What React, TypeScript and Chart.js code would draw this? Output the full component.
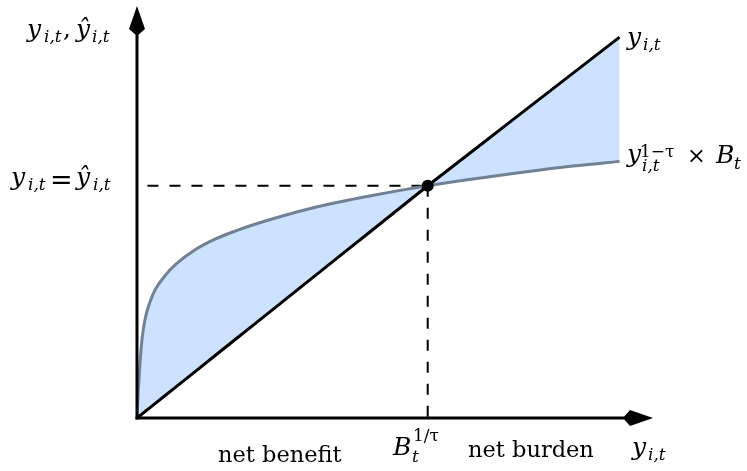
import React, { useEffect, useRef } from 'react';
import { Chart, registerables } from 'chart.js';

Chart.register(...registerables);

// ---- data ----
const xValues = [0, 0.001, 0.004, 0.0086, 0.018, 0.029, 0.046, 0.064, 0.098, 0.132, 0.2, 0.27, 0.34, 0.4, 0.5, 0.6, 0.7, 0.8, 0.9, 1.0, 1.1, 1.2, 1.3, 1.4, 1.5, 1.66];
const curveValues = [0, 0.03, 0.11, 0.205, 0.347, 0.433, 0.504, 0.556, 0.615, 0.66, 0.724, 0.771, 0.806, 0.832, 0.87, 0.903, 0.931, 0.956, 0.979, 1.0, 1.019, 1.037, 1.054, 1.07, 1.085, 1.105];
const lineValues = [0, 0.001, 0.004, 0.0086, 0.018, 0.029, 0.046, 0.064, 0.098, 0.132, 0.2, 0.27, 0.34, 0.4, 0.5, 0.6, 0.7, 0.8, 0.9, 1.0, 1.097, 1.194, 1.291, 1.388, 1.485, 1.64];
const intersectionPoint = [{ x: 1, y: 1 }];
const hDashX = [0.036, 1];
const hDashY = [1, 1];
const vDashX = [1, 1];
const vDashY = [1, 0];
const xRange = [0, 1.775];
const yRange = [0, 1.774];

const NET_BENEFIT = 'net benefit';
const NET_BURDEN = 'net burden';

// ---- styles ----
const FILL = 'rgb(204,226,255)';
const CURVE = '#718193';
const MI = 'italic 25px "DejaVu Serif"';
const SI = 'italic 17px "DejaVu Serif"';
const SU = '17px "DejaVu Serif"';
const UP = '22.5px "DejaVu Serif"';
const EQ = '25px "DejaVu Serif"';

type Piece = { t: string; x: number; y: number; f: string };

const labels: Piece[][] = [
  // y_{i,t}, ŷ_{i,t}
  [
    { t: 'y', x: 27, y: 37, f: MI },
    { t: 'i,t', x: 44, y: 42, f: SI },
    { t: ',', x: 63, y: 37, f: EQ },
    { t: 'ŷ', x: 76, y: 37, f: MI },
    { t: 'i,t', x: 92, y: 42, f: SI },
  ],
  // y_{i,t} = ŷ_{i,t}
  [
    { t: 'y', x: 11, y: 185, f: MI },
    { t: 'i,t', x: 28, y: 190, f: SI },
    { t: '=', x: 50, y: 189, f: '27px "DejaVu Serif"' },
    { t: 'ŷ', x: 76, y: 185, f: MI },
    { t: 'i,t', x: 93, y: 190, f: SI },
  ],
  // y_{i,t} at line end
  [
    { t: 'y', x: 627, y: 45, f: MI },
    { t: 'i,t', x: 643, y: 50, f: SI },
  ],
  // y_{i,t}^{1-τ} × B_t
  [
    { t: 'y', x: 627, y: 162, f: MI },
    { t: 'i,t', x: 642, y: 171, f: SI },
    { t: '1\u2212\u03c4', x: 640, y: 157, f: SU },
    { t: '\u00d7', x: 687, y: 163, f: UP },
    { t: 'B', x: 716, y: 163, f: MI },
    { t: 't', x: 734, y: 169, f: SI },
  ],
  // B_t^{1/τ}
  [
    { t: 'B', x: 393, y: 455, f: MI },
    { t: 't', x: 412, y: 462, f: SI },
    { t: '1/\u03c4', x: 413, y: 441, f: SU },
  ],
  [{ t: NET_BENEFIT, x: 218, y: 462, f: UP }],
  [{ t: NET_BURDEN, x: 468, y: 457, f: UP }],
  // x-axis label
  [
    { t: 'y', x: 632, y: 455, f: MI },
    { t: 'i,t', x: 648, y: 460, f: SI },
  ],
];

const decorPlugin = {
  id: 'decor',
  afterDatasetsDraw(chart: any) {
    const { ctx, chartArea, scales } = chart;
    const ox = scales.x.getPixelForValue(0);
    const oy = scales.y.getPixelForValue(0);
    const right = chartArea.right;
    const top = chartArea.top;
    ctx.save();
    ctx.strokeStyle = '#000';
    ctx.fillStyle = '#000';
    ctx.lineWidth = 3;
    ctx.lineCap = 'butt';
    // x axis
    ctx.beginPath();
    ctx.moveTo(ox - 1.5, oy);
    ctx.lineTo(right - 26, oy);
    ctx.stroke();
    // y axis
    ctx.beginPath();
    ctx.moveTo(ox, oy + 1.5);
    ctx.lineTo(ox, top + 26);
    ctx.stroke();
    // x arrow head
    ctx.beginPath();
    ctx.moveTo(right, oy);
    ctx.lineTo(right - 23, oy - 8);
    ctx.lineTo(right - 30, oy);
    ctx.lineTo(right - 23, oy + 8);
    ctx.closePath();
    ctx.fill();
    // y arrow head
    ctx.beginPath();
    ctx.moveTo(ox, top);
    ctx.lineTo(ox - 8, top + 23);
    ctx.lineTo(ox, top + 30);
    ctx.lineTo(ox + 8, top + 23);
    ctx.closePath();
    ctx.fill();
    // labels
    ctx.textAlign = 'left';
    ctx.textBaseline = 'alphabetic';
    for (const group of labels) {
      for (const p of group) {
        ctx.font = p.f;
        ctx.fillText(p.t, p.x, p.y);
      }
    }
    ctx.restore();
  },
};

export default function App() {
  const ref = useRef<HTMLCanvasElement | null>(null);
  useEffect(() => {
    if (!ref.current) return;
    const chart = new Chart(ref.current, {
      type: 'line',
      data: {
        datasets: [
          {
            data: intersectionPoint,
            showLine: false,
            pointRadius: 6,
            pointBackgroundColor: '#000',
            pointBorderWidth: 0,
          },
          {
            data: xValues.map((x, i) => ({ x, y: lineValues[i] })),
            borderColor: '#000',
            borderWidth: 3,
            pointRadius: 0,
            fill: false,
          },
          {
            data: xValues.map((x, i) => ({ x, y: curveValues[i] })),
            borderColor: CURVE,
            borderWidth: 3,
            pointRadius: 0,
            cubicInterpolationMode: 'monotone',
            fill: { target: 1 },
            backgroundColor: FILL,
          },
          {
            data: hDashX.map((x, i) => ({ x, y: hDashY[i] })),
            borderColor: '#000',
            borderWidth: 2,
            borderDash: [11, 11],
            pointRadius: 0,
            fill: false,
          },
          {
            data: vDashX.map((x, i) => ({ x, y: vDashY[i] })),
            borderColor: '#000',
            borderWidth: 2,
            borderDash: [11, 11],
            pointRadius: 0,
            fill: false,
          },
        ] as any,
      },
      options: {
        animation: false,
        responsive: false,
        devicePixelRatio: 1,
        layout: { padding: { left: 137, right: 94, top: 2, bottom: 53 } },
        scales: {
          x: { type: 'linear', min: xRange[0], max: xRange[1], display: false },
          y: { type: 'linear', min: yRange[0], max: yRange[1], display: false },
        },
        plugins: {
          legend: { display: false },
          tooltip: { enabled: false },
          filler: { drawTime: 'beforeDatasetsDraw' },
        } as any,
      },
      plugins: [decorPlugin],
    });
    return () => chart.destroy();
  }, []);
  return (
    <div style={{ position: 'fixed', left: 0, top: 0, width: 747, height: 471, background: '#fff' }}>
      <canvas ref={ref} width={747} height={471} />
    </div>
  );
}
